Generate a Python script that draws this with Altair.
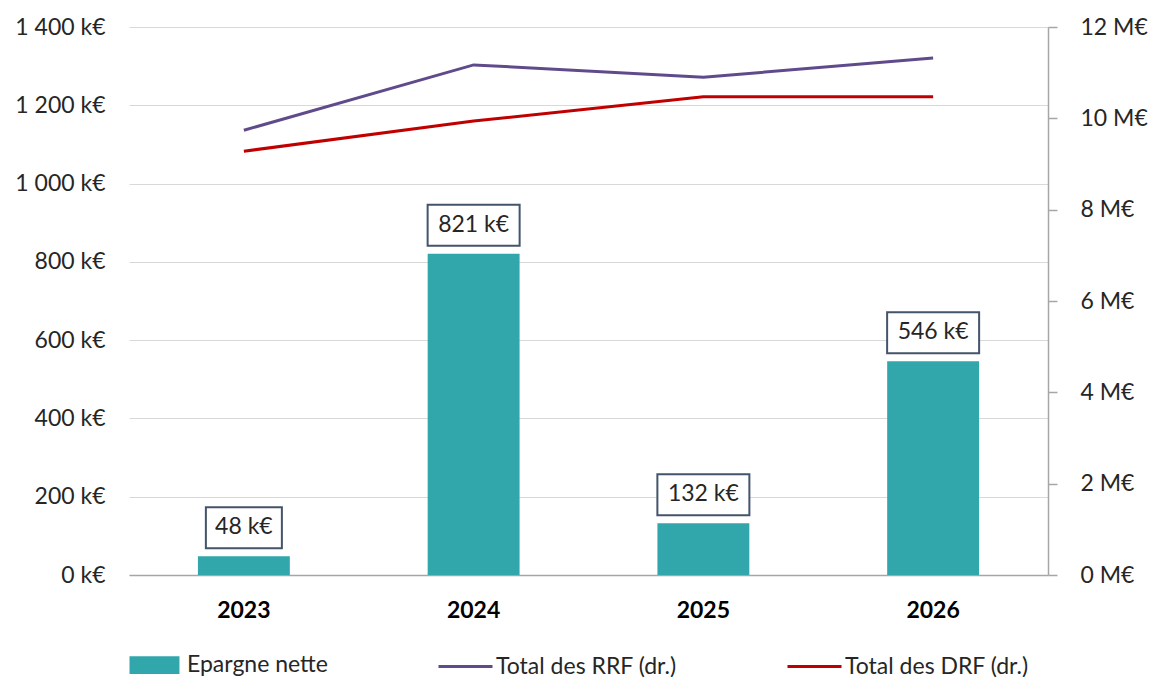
import altair as alt
import pandas as pd

years = ["2023", "2024", "2025", "2026"]
epargne = [48, 821, 132, 546]              # k€
rrf = [9.74, 11.17, 10.90, 11.32]          # M€
drf = [9.28, 9.94, 10.47, 10.47]           # M€
labels = ["48 k€", "821 k€", "132 k€", "546 k€"]

series_names = ["Epargne nette", "Total des RRF (dr.)", "Total des DRF (dr.)"]
series_colors = ["#31A7AB", "#5F4B8B", "#C00000"]

FONT = "Lato"
TXT = "#262626"
FS = 23

bars_df = pd.DataFrame({"year": years, "val": epargne, "label": labels,
                        "series": series_names[0]})
lines_df = pd.DataFrame({
    "year": years * 2,
    "val": rrf + drf,
    "series": [series_names[1]] * 4 + [series_names[2]] * 4,
})
legend_df = pd.DataFrame({"series": series_names})

xscale = alt.Scale(paddingInner=0.6, paddingOuter=0.3)
xaxis = alt.Axis(title=None, labelFont=FONT, labelFontSize=FS, labelFontWeight="bold",
                 labelColor="#000000", labelAngle=0, labelPadding=24,
                 ticks=False, domainColor="#A6A6A6", domainWidth=1.5)
xenc = alt.X("year:N", scale=xscale, sort=years, axis=xaxis)

yleft = alt.Y("val:Q", scale=alt.Scale(domain=[0, 1400]),
              axis=alt.Axis(title=None, values=list(range(0, 1401, 200)),
                            labelExpr="replace(format(datum.value, ','), ',', ' ') + ' k€'",
                            labelFont=FONT, labelFontSize=FS, labelColor=TXT, labelPadding=24,
                            ticks=False, domain=False, gridColor="#D9D9D9", gridWidth=1.2))

bars = alt.Chart(bars_df).mark_bar(color=series_colors[0]).encode(x=xenc, y=yleft)

box_short = alt.Chart(bars_df).transform_filter("length(datum.label) <= 5").mark_bar(
    width=76, fill="white", stroke="#44546A", strokeWidth=2, yOffset=-8, y2Offset=-49
).encode(x=xenc, y=yleft, y2="val:Q")

box_long = alt.Chart(bars_df).transform_filter("length(datum.label) > 5").mark_bar(
    width=92, fill="white", stroke="#44546A", strokeWidth=2, yOffset=-8, y2Offset=-49
).encode(x=xenc, y=yleft, y2="val:Q")

texts = alt.Chart(bars_df).mark_text(
    font=FONT, fontSize=FS, color=TXT, dy=-29, baseline="middle"
).encode(x=xenc, y=yleft, text="label:N")

left = alt.layer(bars, box_short, box_long, texts)

lines = alt.Chart(lines_df).mark_line(strokeWidth=3).encode(
    x=xenc,
    y=alt.Y("val:Q", scale=alt.Scale(domain=[0, 12]),
            axis=alt.Axis(title=None, orient="right", values=list(range(0, 13, 2)),
                          labelExpr="datum.value + ' M€'", grid=False,
                          labelFont=FONT, labelFontSize=FS, labelColor=TXT, labelPadding=23,
                          domainColor="#A6A6A6", domainWidth=1.5,
                          tickColor="#A6A6A6", tickSize=9, tickWidth=1.5)),
    color=alt.Color("series:N", scale=alt.Scale(domain=series_names[1:], range=series_colors[1:]),
                    legend=None),
)

# symbol paths extend to the right of the nominal symbol box (wide swatches)
RECT = "M-1,-0.65H2.7V0.65H-1Z"
LINE = "M-1,0H3"
leg = alt.Legend(orient="none", legendX=-1, legendY=623, direction="horizontal", title=None,
                 labelFont=FONT, labelFontSize=FS, labelColor=TXT, labelOffset=29, labelLimit=400,
                 symbolSize=729, columnPadding=104, symbolStrokeWidth=3, symbolOpacity=1)

legend_layer = alt.Chart(legend_df).transform_filter("false").mark_point(filled=True).encode(
    fill=alt.Fill("series:N", scale=alt.Scale(domain=series_names,
                                              range=[series_colors[0], "transparent", "transparent"]),
                  legend=leg),
    stroke=alt.Stroke("series:N", scale=alt.Scale(domain=series_names,
                                                  range=["transparent", series_colors[1], series_colors[2]]),
                      legend=leg),
    shape=alt.Shape("series:N", scale=alt.Scale(domain=series_names, range=[RECT, LINE, LINE]),
                    legend=leg),
)

chart = alt.layer(left, lines, legend_layer).resolve_scale(y="independent").properties(
    width=919, height=548,
    autosize=alt.AutoSizeParams(type="none"),
    padding={"left": 121, "top": 19, "right": 103, "bottom": 102},
).configure(background="white").configure_view(stroke="transparent")

chart.save("out.html", embed_options={"renderer": "svg", "actions": False})
